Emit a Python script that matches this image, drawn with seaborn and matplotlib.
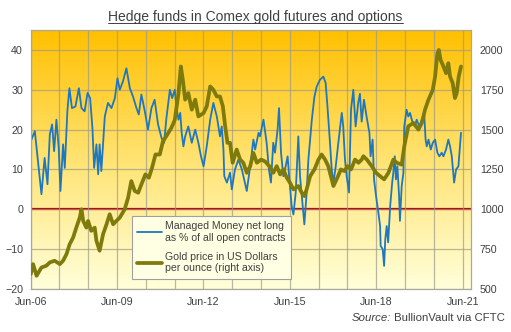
import numpy as np
import matplotlib
matplotlib.use("Agg")
import matplotlib.pyplot as plt
from matplotlib.colors import LinearSegmentedColormap
from matplotlib.lines import Line2D
import seaborn as sns

# ---------------- data ----------------
mm_year = [2006.42, 2006.56, 2006.67, 2006.79, 2006.90, 2007.00, 2007.08, 2007.16, 2007.23, 2007.31,
           2007.39, 2007.45, 2007.54, 2007.60, 2007.69, 2007.76, 2007.85, 2007.97, 2008.09, 2008.18,
           2008.29, 2008.39, 2008.48, 2008.56, 2008.62, 2008.70, 2008.76, 2008.81, 2008.87, 2008.99,
           2009.10, 2009.22, 2009.34, 2009.43, 2009.51, 2009.62, 2009.74, 2009.86, 2009.97, 2010.09,
           2010.17, 2010.26, 2010.38, 2010.49, 2010.61, 2010.72, 2010.84, 2010.96, 2011.05, 2011.13,
           2011.25, 2011.33, 2011.42, 2011.49, 2011.55, 2011.61, 2011.66, 2011.72, 2011.78, 2011.89,
           2012.01, 2012.13, 2012.24, 2012.33, 2012.42, 2012.53, 2012.65, 2012.76, 2012.88, 2012.99,
           2013.05, 2013.11, 2013.14, 2013.23, 2013.34, 2013.40, 2013.51, 2013.63, 2013.75, 2013.92,
           2014.04, 2014.15, 2014.21, 2014.33, 2014.38, 2014.50, 2014.61, 2014.69, 2014.76, 2014.84,
           2014.90, 2014.99, 2015.04, 2015.11, 2015.19, 2015.27, 2015.34, 2015.39, 2015.48, 2015.54,
           2015.62, 2015.71, 2015.77, 2015.85, 2015.92, 2016.00, 2016.06, 2016.18, 2016.27, 2016.35,
           2016.46, 2016.58, 2016.66, 2016.73, 2016.81, 2016.87, 2016.93, 2017.01, 2017.10, 2017.22,
           2017.27, 2017.33, 2017.39, 2017.47, 2017.54, 2017.62, 2017.70, 2017.79, 2017.85, 2017.91,
           2017.99, 2018.08, 2018.18, 2018.22, 2018.29, 2018.34, 2018.41, 2018.49, 2018.55, 2018.57,
           2018.64, 2018.69, 2018.73, 2018.78, 2018.83, 2018.90, 2018.97, 2019.01, 2019.06, 2019.10,
           2019.15, 2019.21, 2019.24, 2019.30, 2019.36, 2019.39, 2019.47, 2019.53, 2019.59, 2019.68,
           2019.76, 2019.82, 2019.91, 2020.00, 2020.08, 2020.13, 2020.17, 2020.23, 2020.31, 2020.38,
           2020.46, 2020.54, 2020.61, 2020.69, 2020.75, 2020.84, 2020.92, 2020.98, 2021.04, 2021.12,
           2021.19, 2021.27, 2021.36]
mm_pct = [17.1, 19.6, 12.1, 3.8, 12.9, 6.3, 18.8, 21.3, 14.6, 22.5,
          15.4, 4.6, 16.3, 10.4, 24.6, 30.4, 25.4, 25.8, 30.4, 25.4,
          24.6, 29.2, 27.9, 20.4, 10.4, 16.3, 8.8, 16.3, 9.6, 23.3,
          26.7, 25.4, 27.9, 32.9, 30.0, 32.1, 35.4, 30.4, 28.3, 25.4,
          23.8, 28.8, 24.6, 20.0, 25.4, 27.5, 21.3, 17.9, 16.7, 22.9,
          30.0, 27.9, 30.0, 25.0, 22.5, 24.2, 19.2, 15.8, 18.3, 20.8,
          16.7, 20.0, 16.7, 13.3, 10.8, 15.8, 22.5, 26.7, 23.3, 18.3,
          20.8, 15.0, 8.3, 6.7, 9.2, 5.0, 10.0, 12.5, 10.0, 4.6,
          10.8, 17.5, 15.0, 19.2, 18.3, 22.5, 16.7, 10.0, 6.7, 16.7,
          14.2, 20.0, 25.4, 14.2, 8.3, 10.8, 13.3, 8.3, 0.8, -1.3,
          4.2, 18.3, 8.3, 1.7, -3.8, 4.2, 12.5, 22.5, 28.3, 30.8,
          32.5, 33.3, 31.7, 25.0, 16.7, 10.0, 6.7, 10.8, 16.7, 24.2,
          20.8, 12.5, 8.3, 4.2, 25.0, 30.0, 20.8, 26.7, 29.0, 22.0,
          27.5, 23.3, 19.2, 13.3, 17.5, 7.5, 3.3, -0.8, -4.2, -9.2,
          -10.0, -14.2, -7.5, -4.2, -8.3, 0.8, 6.7, 9.2, 13.3, 7.5,
          10.8, 3.3, -2.9, 5.8, 9.2, 20.8, 25.0, 23.3, 24.2, 21.7,
          20.8, 22.5, 20.8, 22.5, 24.2, 17.5, 15.8, 17.5, 15.0, 16.7,
          17.5, 14.2, 13.3, 14.2, 13.3, 15.0, 17.5, 15.8, 13.3, 6.7,
          10.0, 10.8, 19.2]

gold_year = [2006.42, 2006.50, 2006.62, 2006.79, 2006.96, 2007.08, 2007.25, 2007.43, 2007.54, 2007.66,
             2007.77, 2007.89, 2008.00, 2008.12, 2008.18, 2008.24, 2008.35, 2008.41, 2008.52, 2008.64,
             2008.70, 2008.81, 2008.93, 2009.05, 2009.16, 2009.28, 2009.39, 2009.51, 2009.68, 2009.80,
             2009.91, 2010.03, 2010.15, 2010.26, 2010.40, 2010.52, 2010.63, 2010.75, 2010.90, 2011.01,
             2011.16, 2011.30, 2011.42, 2011.55, 2011.63, 2011.70, 2011.78, 2011.89, 2012.01, 2012.13,
             2012.24, 2012.42, 2012.53, 2012.65, 2012.76, 2012.88, 2012.99, 2013.09, 2013.17, 2013.25,
             2013.34, 2013.43, 2013.57, 2013.69, 2013.80, 2013.92, 2014.04, 2014.15, 2014.27, 2014.42,
             2014.56, 2014.70, 2014.84, 2014.96, 2015.08, 2015.19, 2015.31, 2015.42, 2015.54, 2015.71,
             2015.83, 2015.92, 2016.00, 2016.12, 2016.27, 2016.41, 2016.52, 2016.64, 2016.75, 2016.87,
             2016.93, 2017.04, 2017.19, 2017.31, 2017.42, 2017.54, 2017.68, 2017.80, 2017.91, 2017.97,
             2018.09, 2018.26, 2018.41, 2018.55, 2018.69, 2018.84, 2019.01, 2019.13, 2019.30, 2019.39,
             2019.53, 2019.71, 2019.88, 2020.00, 2020.11, 2020.23, 2020.28, 2020.38, 2020.46, 2020.54,
             2020.59, 2020.65, 2020.75, 2020.84, 2020.92, 2020.98, 2021.07, 2021.15, 2021.21, 2021.28,
             2021.36]
gold_usd = [594, 656, 583, 635, 646, 667, 677, 656, 677, 719,
            781, 823, 885, 948, 1000, 927, 885, 927, 865, 885,
            802, 740, 844, 906, 969, 906, 927, 948, 1000, 1073,
            1177, 1115, 1104, 1156, 1219, 1198, 1260, 1344, 1344, 1427,
            1469, 1510, 1560, 1729, 1896, 1812, 1688, 1729, 1625, 1688,
            1583, 1604, 1646, 1771, 1750, 1708, 1708, 1646, 1521, 1417,
            1417, 1292, 1375, 1312, 1292, 1229, 1271, 1354, 1292, 1312,
            1300, 1271, 1229, 1271, 1219, 1250, 1198, 1167, 1125, 1146,
            1104, 1083, 1125, 1208, 1250, 1312, 1344, 1312, 1271, 1188,
            1146, 1188, 1250, 1240, 1271, 1250, 1312, 1292, 1312, 1333,
            1312, 1271, 1229, 1208, 1188, 1229, 1312, 1292, 1280, 1396,
            1521, 1542, 1500, 1542, 1625, 1688, 1708, 1750, 1833, 1979,
            2000, 1938, 1896, 1854, 1917, 1833, 1792, 1698, 1729, 1833,
            1896]

xtick_labels = ["Jun-06", "Jun-09", "Jun-12", "Jun-15", "Jun-18", "Jun-21"]
legend_labels = ["Managed Money net long\nas % of all open contracts",
                 "Gold price in US Dollars\nper ounce (right axis)"]
title_text = "Hedge funds in Comex gold futures and options"

# ---------------- styling ----------------
BLUE = "#1F77BE"
OLIVE = "#7F7A0C"
TXT = "#404040"

sns.set_theme(style="white")
plt.rcParams['font.family'] = ['Liberation Sans', 'DejaVu Sans']

fig = plt.figure(figsize=(5.11, 3.32), dpi=100)
fig.patch.set_facecolor("white")
ax = fig.add_axes([30.7 / 511, 1 - 289 / 332, 440 / 511, 259 / 332])

x0 = 2006 + 5 / 12
x1 = x0 + 15.28
ylo, yhi = -20, 45

# gradient background
cmap = LinearSegmentedColormap.from_list("bg", ["#FFC000", "#FFE372", "#FFFFDA"])
ax.imshow(np.linspace(0, 1, 256).reshape(-1, 1), extent=[x0, x1, ylo, yhi],
          aspect="auto", cmap=cmap, origin="upper", zorder=0)

ax.set_xlim(x0, x1)
ax.set_ylim(ylo, yhi)
ax.set_xticks([x0 + 3 * i for i in range(len(xtick_labels))])
ax.set_xticklabels(xtick_labels)
ax.set_xticks([x0 + i for i in range(16)], minor=True)
ax.set_yticks(np.arange(-20, 41, 10))
ax.grid(True, which="major", axis="both", color="#9A9A8A", alpha=0.7, lw=0.9, zorder=0.5)
ax.grid(True, which="minor", axis="x", color="#9A9A8A", alpha=0.7, lw=0.9, zorder=0.5)
ax.set_axisbelow(False)

ax.axhline(0, color="#C00000", lw=1.6, zorder=2)
sns.lineplot(x=mm_year, y=mm_pct, ax=ax, color=BLUE, lw=1.3, zorder=3)

ax2 = ax.twinx()
sns.lineplot(x=gold_year, y=gold_usd, ax=ax2, color=OLIVE, lw=2.7, zorder=3)
ax2.set_ylim(500, 2125)
ax2.set_yticks(np.arange(500, 2001, 250))
ax2.set_xlim(x0, x1)

for a in (ax, ax2):
    a.tick_params(axis="both", which="both", length=0, labelsize=7.7, colors=TXT)
    for s in a.spines.values():
        s.set_color("#A8A8A0")
        s.set_linewidth(0.8)
ax.tick_params(axis="y", pad=5.5)
ax.tick_params(axis="x", pad=5.5)
ax2.tick_params(axis="y", pad=6.5)
ax.set_xlabel("")
ax.set_ylabel("")
ax2.set_ylabel("")

# legend
handles = [Line2D([0], [0], color=BLUE, lw=1.3), Line2D([0], [0], color=OLIVE, lw=2.7)]
leg = fig.legend(handles, legend_labels, loc="upper left",
                 bbox_to_anchor=(132 / 511, 1 - 216 / 332), fontsize=7.6,
                 frameon=True, fancybox=False, framealpha=1, facecolor="#FFFFE4",
                 edgecolor="#A0A0A0", handlelength=2.3, handletextpad=0.3,
                 borderpad=0.5, labelspacing=0.85, borderaxespad=0)
leg.get_frame().set_linewidth(0.8)
for t in leg.get_texts():
    t.set_color(TXT)

# title with underline
title = fig.text(255.5 / 511, 1 - 17 / 332, title_text, ha="center", va="center",
                 fontsize=10.0, color=TXT)
fig.canvas.draw()
r = fig.canvas.get_renderer()
bb = title.get_window_extent(r).transformed(fig.transFigure.inverted())
fig.add_artist(Line2D([bb.x0, bb.x1], [bb.y0 + 0.004, bb.y0 + 0.004],
                      transform=fig.transFigure, color=TXT, lw=0.7))

# source
src = fig.text(505 / 511, 1 - 318 / 332, " BullionVault via CFTC", ha="right", va="center",
               fontsize=8.2, color=TXT)
fig.canvas.draw()
sb = src.get_window_extent(r).transformed(fig.transFigure.inverted())
fig.text(sb.x0, 1 - 318 / 332, "Source:", ha="right", va="center", fontsize=8.2,
         color=TXT, style="italic")

fig.savefig("out.png", dpi=100)
